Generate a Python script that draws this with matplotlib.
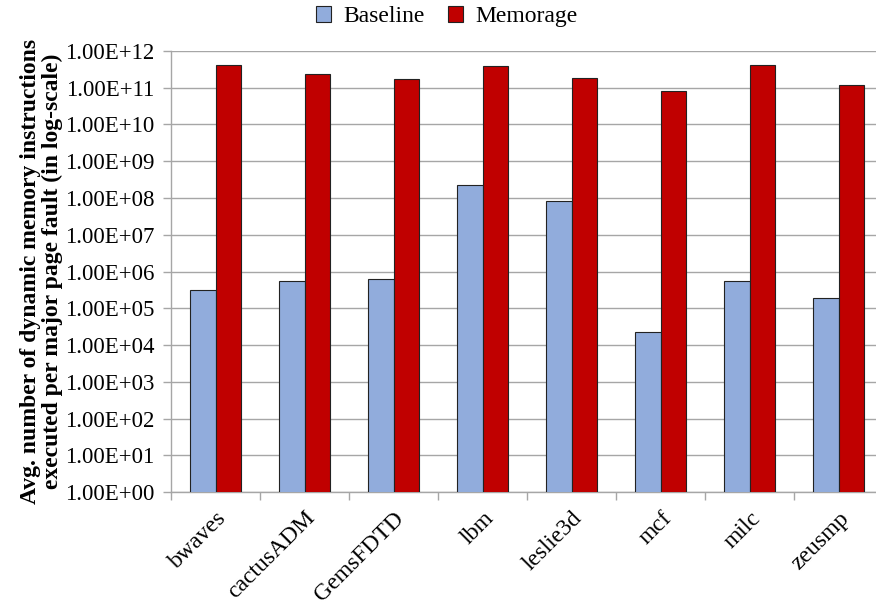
import numpy as np
import matplotlib
matplotlib.use("Agg")
import matplotlib.pyplot as plt
from matplotlib.ticker import FixedLocator, FuncFormatter

plt.rcParams['font.family'] = ['Liberation Serif', 'DejaVu Serif']

# Data
benchmarks = ['bwaves', 'cactusADM', 'GemsFDTD', 'lbm', 'leslie3d', 'mcf', 'milc', 'zeusmp']
baseline = [3.1e5, 5.4e5, 6.3e5, 2.3e8, 8.3e7, 2.2e4, 5.4e5, 1.9e5]
memorage = [4.1e11, 2.4e11, 1.7e11, 3.9e11, 1.8e11, 8.1e10, 4.1e11, 1.2e11]

fig = plt.figure(figsize=(8.76, 6.08), dpi=100)
ax = fig.add_axes([0.1955, 0.1903, 0.8128, 0.7263])

x = np.arange(len(benchmarks))
w = 1 / 3.5
ax.bar(x - w / 2, baseline, width=w, color='#91ACDC', edgecolor='#222222',
       linewidth=0.8, label='Baseline', zorder=3)
ax.bar(x + w / 2, memorage, width=w, color='#C00000', edgecolor='#222222',
       linewidth=0.8, label='Memorage', zorder=3)

ax.set_yscale('log')
ax.set_ylim(1, 1e12)
ax.set_xlim(-0.5, len(benchmarks) - 0.5)
ax.yaxis.set_major_locator(FixedLocator([10.0 ** k for k in range(13)]))
ax.yaxis.set_minor_locator(FixedLocator([]))
ax.yaxis.set_major_formatter(FuncFormatter(lambda v, p: '1.00E+%02d' % int(round(np.log10(v)))))
ax.grid(axis='y', color='#a6a6a6', linewidth=1.0, zorder=0)

# category labels at centres, tick marks on boundaries
ax.set_xticks(x)
ax.set_xticklabels(benchmarks, rotation=45, ha='right', rotation_mode='anchor', fontsize=17)
ax.tick_params(axis='x', which='major', length=0, pad=11)
ax.set_xticks(np.arange(len(benchmarks) + 1) - 0.5, minor=True)
ax.tick_params(axis='x', which='minor', length=6, color='#a6a6a6', width=1)
ax.tick_params(axis='y', length=6, color='#a6a6a6', width=1, labelsize=16.5, pad=6)

for s in ['top', 'right']:
    ax.spines[s].set_visible(False)
for s in ['left', 'bottom']:
    ax.spines[s].set_color('#a6a6a6')
    ax.spines[s].set_linewidth(1.0)

ax.set_ylabel('Avg. number of dynamic memory instructions\nexecuted per major page fault (in log-scale)',
              fontsize=17, fontweight='bold', linespacing=1.05)
ax.yaxis.set_label_coords(-0.152, 0.5)

fig.legend(loc='upper center', bbox_to_anchor=(0.51, 1.025), ncol=2, frameon=False,
           fontsize=17, handlelength=0.65, handleheight=0.65, handletextpad=0.5,
           columnspacing=1.0)

fig.savefig('out.png', dpi=100)
